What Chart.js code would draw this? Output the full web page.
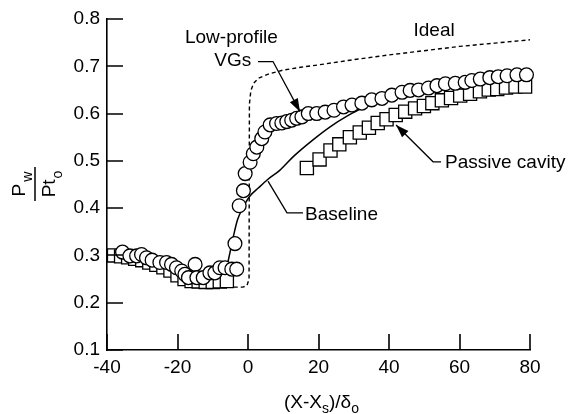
<!DOCTYPE html>
<html>
<head>
<meta charset="utf-8">
<script src="https://cdn.jsdelivr.net/npm/chart.js@4.4.1/dist/chart.umd.min.js"></script>
<style>
  html, body { margin: 0; padding: 0; background: #fff; }
  #grafica { display: block; }
</style>
</head>
<body>
<canvas id="grafica" width="572" height="414"></canvas>
<script>
// ==============================
// DATOS
// ==============================
const xTicks = [-40, -20, 0, 20, 40, 60, 80];
const yTicks = [0.1, 0.2, 0.3, 0.4, 0.5, 0.6, 0.7, 0.8];

// Low-profile VGs (círculos)
const vgX = [-35.6, -33.5, -31.6, -30.2, -28.8, -27.2, -25.0, -23.1, -21.7, -20.3, -18.8, -17.9, -16.9, -15.0, -14.5, -12.7,
  -10.8, -9.4, -8.0, -6.5, -4.6, -3.2, -3.7, -2.5, -1.3, -0.8, 0.6, 1.5, 2.5, 3.9, 4.8, 6.3, 8.1, 9.6, 11.0, 12.4,
  13.8, 15.3, 17.1, 19.5, 21.9, 24.4, 27.1, 29.5, 32.3, 35.1, 38.0, 40.8, 43.7, 46.0, 48.4, 51.2, 53.6, 56.0, 58.8,
  61.6, 63.5, 65.9, 68.6, 71.0, 73.5, 76.3, 79.0];
const vgY = [0.307, 0.299, 0.299, 0.302, 0.295, 0.290, 0.285, 0.285, 0.281, 0.274, 0.267, 0.260, 0.253, 0.281, 0.253, 0.253,
  0.263, 0.263, 0.274, 0.274, 0.271, 0.271, 0.325, 0.405, 0.437, 0.473, 0.497, 0.515, 0.529, 0.547, 0.561, 0.576, 0.579, 0.580, 0.583, 0.586,
  0.590, 0.593, 0.600, 0.600, 0.603, 0.607, 0.614, 0.618, 0.622, 0.629, 0.632, 0.639, 0.645, 0.649, 0.650, 0.654, 0.659, 0.663, 0.664,
  0.666, 0.670, 0.673, 0.676, 0.678, 0.680, 0.682, 0.682];

// Passive cavity (cuadrados)
const pcX = [-38, -36, -34, -32, -30, -28, -26, -24, -22, -20, -18, -16, -14, -12, -10, -8, -6,
  16.7, 20.3, 23.4, 25.9, 28.9, 31.7, 34.3, 36.8, 39.3, 41.9, 44.6, 47.4, 49.9, 52.3, 55.0, 57.6, 60.2, 63.0, 65.8, 68.3,
  70.7, 73.2, 75.9, 78.6];
const pcY = [0.300, 0.298, 0.296, 0.293, 0.290, 0.285, 0.280, 0.275, 0.268, 0.258, 0.250, 0.246, 0.245, 0.244, 0.244, 0.245, 0.246,
  0.485, 0.503, 0.522, 0.535, 0.550, 0.560, 0.570, 0.580, 0.588, 0.597, 0.604, 0.611, 0.616, 0.622, 0.628, 0.633, 0.638, 0.642, 0.647, 0.651,
  0.652, 0.655, 0.657, 0.657];

// Baseline (línea continua)
const blX = [-6, -5, -4, -3, -1.5, 0.5, 3, 5.5, 9, 13, 18.7, 23.5, 28.2, 33, 37.6, 42, 50, 60, 70, 80];
const blY = [0.275, 0.310, 0.345, 0.375, 0.400, 0.425, 0.443, 0.460, 0.480, 0.510, 0.546, 0.573, 0.595, 0.614, 0.632, 0.643, 0.655, 0.664, 0.670, 0.675];

// Ideal (línea discontinua)
const idX = [-10, -1.5, -0.3, 0.3, 0.4, 0.8, 1.6, 3, 6, 10, 15, 20, 30, 40, 50, 60, 70, 80];
const idY = [0.233, 0.233, 0.236, 0.250, 0.620, 0.648, 0.664, 0.675, 0.684, 0.692, 0.698, 0.703, 0.714, 0.724, 0.733, 0.742, 0.749, 0.756];

const puntos = (xs, ys) => xs.map((x, i) => ({ x: x, y: ys[i] }));

// ==============================
// ANOTACIONES (coordenadas de datos)
// ==============================
const FUENTE = '"Liberation Sans", Arial, Helvetica, sans-serif';

const notas = [
  { texto: 'Low-profile', x: -4.7, y: 0.749, align: 'center' },
  { texto: 'VGs', x: -4.3, y: 0.700, align: 'center' },
  { texto: 'Ideal', x: 52.8, y: 0.765, align: 'center' },
  { texto: 'Passive cavity', x: 55.9, y: 0.485, align: 'left' },
  { texto: 'Baseline', x: 16.2, y: 0.374, align: 'left' }
];

const guias = [
  { pts: [[2.84, 0.710], [7.09, 0.710], [14.75, 0.604]], flecha: true },
  { pts: [[54.75, 0.498], [52.5, 0.498], [42.0, 0.576]], flecha: true },
  { pts: [[15.6, 0.390], [11.06, 0.390], [5.67, 0.457]], flecha: false }
];

function punta(ctx, x0, y0, x1, y1) {
  const ang = Math.atan2(y1 - y0, x1 - x0);
  const largo = 13, ancho = 4.5;
  ctx.beginPath();
  ctx.moveTo(x1, y1);
  ctx.lineTo(x1 - largo * Math.cos(ang) + ancho * Math.sin(ang), y1 - largo * Math.sin(ang) - ancho * Math.cos(ang));
  ctx.lineTo(x1 - largo * Math.cos(ang) - ancho * Math.sin(ang), y1 - largo * Math.sin(ang) + ancho * Math.cos(ang));
  ctx.closePath();
  ctx.fill();
}

// texto con subíndices: partes [texto, esSub, espacioExtra]
function textoCompuesto(ctx, partes, x, y, tam, tamSub, bajada) {
  let total = 0;
  partes.forEach(p => {
    ctx.font = (p[1] ? tamSub : tam) + 'px ' + FUENTE;
    total += ctx.measureText(p[0]).width + (p[2] || 0);
  });
  let cx = x - total / 2;
  partes.forEach(p => {
    ctx.font = (p[1] ? tamSub : tam) + 'px ' + FUENTE;
    ctx.fillText(p[0], cx, p[1] ? y + bajada : y);
    cx += ctx.measureText(p[0]).width + (p[2] || 0);
  });
}

const extras = {
  id: 'extras',
  afterDraw(chart) {
    const { ctx, chartArea, scales } = chart;
    const sx = scales.x, sy = scales.y;
    ctx.save();
    ctx.strokeStyle = '#000';
    ctx.fillStyle = '#000';

    // marcas de eje hacia dentro
    ctx.lineWidth = 1.6;
    ctx.beginPath();
    xTicks.forEach(v => {
      const px = Math.round(sx.getPixelForValue(v));
      ctx.moveTo(px, chartArea.bottom);
      ctx.lineTo(px, chartArea.bottom - 16);
    });
    yTicks.forEach(v => {
      const py = Math.round(sy.getPixelForValue(v));
      ctx.moveTo(chartArea.left, py);
      ctx.lineTo(chartArea.left + 16, py);
    });
    ctx.stroke();

    // guías y flechas
    ctx.lineWidth = 1.3;
    guias.forEach(g => {
      const p = g.pts.map(q => [sx.getPixelForValue(q[0]), sy.getPixelForValue(q[1])]);
      ctx.beginPath();
      ctx.moveTo(p[0][0], p[0][1]);
      for (let i = 1; i < p.length; i++) ctx.lineTo(p[i][0], p[i][1]);
      ctx.stroke();
      if (g.flecha) {
        const a = p[p.length - 2], b = p[p.length - 1];
        punta(ctx, a[0], a[1], b[0], b[1]);
      }
    });

    // textos de anotación
    ctx.font = '19px ' + FUENTE;
    ctx.textBaseline = 'alphabetic';
    notas.forEach(n => {
      ctx.textAlign = n.align;
      ctx.fillText(n.texto, sx.getPixelForValue(n.x), sy.getPixelForValue(n.y));
    });

    // título eje x: (X-Xs)/δo
    ctx.textAlign = 'left';
    textoCompuesto(ctx, [['(X-X', false], ['s', true], [')/δ', false], ['o', true]],
      (chartArea.left + chartArea.right) / 2 + 3, 408, 19, 14, 5);

    // título eje y: fracción Pw / Pto girada
    ctx.translate(35, 184);
    ctx.rotate(-Math.PI / 2);
    ctx.lineWidth = 1.5;
    ctx.beginPath();
    ctx.moveTo(-17, 0);
    ctx.lineTo(17, 0);
    ctx.stroke();
    textoCompuesto(ctx, [['P', false, 2], ['w', true]], 0, -10, 19, 14, 7);
    textoCompuesto(ctx, [['Pt', false, 1], ['o', true]], 0, 20, 19, 14, 7);

    ctx.restore();
  }
};

// ==============================
// CHART
// ==============================
const canvas = document.getElementById('grafica');
const ctx = canvas.getContext('2d');

new Chart(ctx, {
  type: 'scatter',
  data: {
    datasets: [
      {
        label: 'Low-profile VGs',
        data: puntos(vgX, vgY),
        pointStyle: 'circle',
        pointRadius: 6.9,
        pointBorderWidth: 1.3,
        pointBorderColor: '#000',
        pointBackgroundColor: '#fff',
        showLine: false,
        clip: false
      },
      {
        label: 'Passive cavity',
        data: puntos(pcX, pcY),
        pointStyle: 'rect',
        pointRadius: 9.3,
        pointBorderWidth: 1.3,
        pointBorderColor: '#000',
        pointBackgroundColor: '#fff',
        showLine: false,
        clip: false
      },
      {
        label: 'Baseline',
        data: puntos(blX, blY),
        showLine: true,
        borderColor: '#000',
        borderWidth: 1.5,
        pointRadius: 0,
        cubicInterpolationMode: 'monotone',
        fill: false
      },
      {
        label: 'Ideal',
        data: puntos(idX, idY),
        showLine: true,
        borderColor: '#000',
        borderWidth: 1.4,
        borderDash: [4, 3],
        pointRadius: 0,
        tension: 0,
        fill: false
      }
    ]
  },
  options: {
    responsive: false,
    animation: false,
    devicePixelRatio: 1,
    layout: { padding: { top: 19, right: 42, left: 0, bottom: 0 } },
    plugins: {
      legend: { display: false },
      tooltip: { enabled: false }
    },
    scales: {
      x: {
        type: 'linear',
        position: 'bottom',
        min: -40,
        max: 80,
        afterFit: s => { s.height = 64; },
        afterBuildTicks: s => { s.ticks = xTicks.map(v => ({ value: v })); },
        grid: { display: false, drawTicks: false },
        border: { display: true, color: '#000', width: 1.6 },
        ticks: {
          color: '#000',
          padding: 6,
          maxRotation: 0,
          font: { size: 19, family: FUENTE },
          callback: v => String(v)
        }
      },
      y: {
        type: 'linear',
        min: 0.1,
        max: 0.8,
        afterFit: s => { s.width = 107; },
        afterBuildTicks: s => { s.ticks = yTicks.map(v => ({ value: v })); },
        grid: { display: false, drawTicks: false },
        border: { display: true, color: '#000', width: 1.6 },
        ticks: {
          color: '#000',
          padding: 7,
          font: { size: 19, family: FUENTE },
          callback: v => Number(v).toFixed(1)
        }
      }
    }
  },
  plugins: [extras]
});
</script>
</body>
</html>
